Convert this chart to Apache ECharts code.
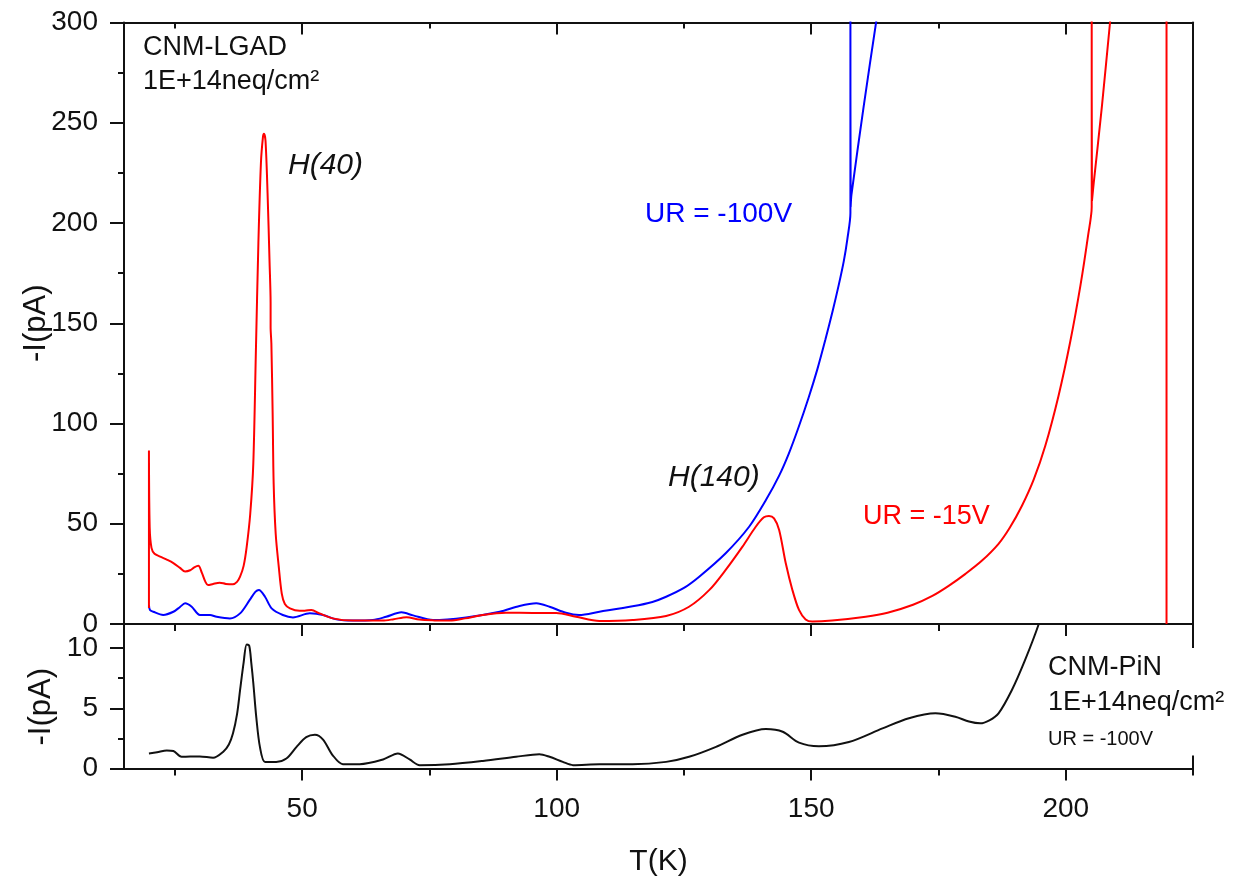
<!DOCTYPE html>
<html>
<head>
<meta charset="utf-8">
<script src="https://cdn.jsdelivr.net/npm/echarts@6/dist/echarts.min.js"></script>
<style>
  html, body { margin: 0; padding: 0; background: #fff; }
  #chart { width: 1234px; height: 880px; }
</style>
</head>
<body>
<div id="chart"></div>
<script>
// Thermally stimulated current, [T (K), -I (pA)]
const lgadUR15V = [
  [19.9, 8], [19.9, 86.5], [20.05, 48], [20.4, 38], [21, 35], [22.1, 33.6], [23.5, 32],
  [24.7, 30.4], [26, 28], [27, 26.2], [28, 26.8], [28.8, 28.2], [29.6, 29], [30.3, 25.5],
  [31, 21], [31.5, 19.4], [32.5, 20], [33.8, 20.6], [35, 20], [36.4, 19.8], [37.2, 21],
  [37.8, 23.6], [38.5, 29], [39.1, 38.5], [39.8, 55], [40.4, 80], [40.9, 135], [41.4, 190],
  [41.9, 230], [42.3, 243], [42.5, 244.5], [42.8, 241], [43.2, 215], [43.6, 180], [43.8, 160],
  [43.8, 148], [43.95, 140], [44.2, 105], [44.4, 70], [44.8, 45], [45.4, 28.6], [46, 15],
  [46.6, 10], [47.6, 7.8], [49.5, 6.6], [50.5, 6.6], [51.8, 7], [53.4, 5.3], [56, 2.8],
  [60, 1.7], [65.8, 1.7], [68, 2.4], [70.5, 3.4], [73, 2.2], [76, 1.8], [79, 1.7], [82, 2.8],
  [85.5, 4.5], [90, 5.6], [95.3, 5.5], [99.9, 5.5], [103.8, 3.6], [108.4, 1.5], [114.9, 2],
  [121.5, 4], [126, 8.6], [130, 17], [133.2, 27], [136.5, 38.6], [139.1, 48.5], [140.7, 53.2],
  [141.7, 53.9], [142.7, 52.7], [143.7, 46.9], [145, 30.3], [146.3, 17], [147.6, 7],
  [148.9, 2.3], [150.2, 1.2], [154.1, 1.7], [160.7, 3.6], [165, 5.6], [170, 9.6], [173.8, 14],
  [177, 19], [180.3, 25], [183.5, 31.5], [186.8, 40], [189, 48], [191.4, 59],
  [193.7, 72], [196, 89], [198.6, 114], [200.9, 141], [202.9, 169], [204.4, 194],
  [205.1, 208], [205.1, 320], [205.15, 211], [205.5, 220], [207.1, 258], [208.7, 300],
  [209.5, 320], [219.8, 320], [219.8, 0]
];

const lgadUR100V = [
  [19.9, 9.5], [20.1, 7], [20.75, 6.1], [22.7, 4.5], [24.7, 6.1], [26, 8.5], [27, 10.3],
  [28.3, 8.6], [29.9, 4.5], [31.9, 4.5], [33.2, 3.6], [35.8, 2.8], [37.8, 5.3], [39.7, 12],
  [40.8, 16], [41.5, 17], [42.7, 13.6], [44, 7.8], [46.2, 4.5], [48.2, 3.3], [51.5, 5.3],
  [54.1, 4.5], [56.7, 2.3], [60, 1.7], [63.9, 2], [66.5, 3.6], [69.5, 5.8], [71.8, 4.3],
  [75.7, 2], [82.2, 3.3], [88.8, 6.1], [92.7, 9], [96, 10.3], [98.6, 8.6], [101.8, 5.6],
  [104.4, 4.5], [108.4, 6.1], [114.9, 8.8], [118.8, 11], [121.5, 13.6], [125, 18],
  [128, 23.6], [133.2, 35.3], [137.8, 48.5], [141.1, 61.8], [143.7, 74], [145.6, 85],
  [147.5, 98], [149.5, 113], [151.2, 127], [152.8, 142], [154.2, 156], [155.4, 169],
  [156.4, 181], [157.1, 192], [157.7, 205], [157.7, 320], [157.75, 208], [157.9, 214],
  [160.3, 258], [162.8, 301], [164, 320]
];

const pinUR100V = [
  [19.9, 1.25], [21.5, 1.35], [23.4, 1.5], [24.7, 1.45], [26.3, 0.97], [28, 1.0], [29.9, 1.0],
  [32.5, 0.9], [34.5, 1.4], [35.6, 2.0], [36.4, 2.9], [37.2, 4.5], [37.8, 6.5], [38.5, 8.8],
  [39.1, 10.3], [39.6, 10.2], [40, 8.8], [40.4, 7.1], [41, 4.2], [41.7, 1.8], [42.7, 0.55],
  [44.9, 0.55], [46.9, 0.83], [48.9, 1.8], [50.8, 2.6], [52.5, 2.8], [54.1, 2.4], [56, 1.1],
  [58, 0.36], [61.3, 0.36], [65.9, 0.75], [68.8, 1.25], [71.1, 0.75], [73.1, 0.28], [79, 0.36],
  [85.5, 0.63], [92, 0.97], [96.6, 1.19], [98.6, 0.97], [101.2, 0.55], [103.2, 0.28],
  [108.4, 0.36], [114.9, 0.36], [121.5, 0.55], [126, 0.97], [131.3, 1.8], [136.5, 2.8],
  [141.1, 3.27], [144.4, 3.05], [147.6, 2.15], [151.5, 1.85], [157.4, 2.2], [164, 3.33],
  [169.2, 4.17], [174.4, 4.58], [178.3, 4.3], [181, 3.9], [183.2, 3.75], [185, 4.0],
  [186.8, 4.58], [189.4, 6.5], [192, 9], [194.7, 12], [196, 14]
];

// Axis ticks
const tMajorTicks = [50, 100, 150, 200];
const tMinorTicks = [25, 75, 125, 175];
const tEndTick = [225];
const pinMajorTicks = [0, 5, 10];
const pinMinorTicks = [2.5, 7.5];

const FONT = '"Liberation Sans", Arial, Helvetica, sans-serif';
const INK = '#111';
const T_MIN = 15, T_MAX = 225;

function tAxis(gridIndex, position, o) {
  return {
    type: 'value', gridIndex, position, min: T_MIN, max: T_MAX,
    axisLine: { show: !!o.line, onZero: false, lineStyle: { color: INK, width: 2 } },
    axisTick: { show: !!o.ticks, inside: !!o.inside, length: o.len || 0, customValues: o.ticks || [],
                lineStyle: { color: INK, width: 2 } },
    axisLabel: o.labels ? { show: true, customValues: o.labels, fontFamily: FONT, fontSize: 28,
                            color: INK, margin: 27 } : { show: false },
    splitLine: { show: false },
    name: o.name || '', nameLocation: 'middle', nameGap: o.nameGap || 0, nameMoveOverlap: false,
    nameTextStyle: { fontFamily: FONT, fontSize: 30, color: INK }
  };
}

function curve(name, data, xi, yi, color) {
  return {
    name, type: 'line', xAxisIndex: xi, yAxisIndex: yi, data,
    showSymbol: false, smooth: 0.3, clip: true, sampling: 'none',
    lineStyle: { color, width: 2 }, itemStyle: { color }
  };
}

const option = {
  backgroundColor: '#fff',
  animation: false,
  grid: [
    { left: 124, top: 22.5, width: 1069, height: 601.5 },
    { left: 124, top: 624, width: 1069, height: 144.5 }
  ],
  xAxis: [
    tAxis(0, 'bottom', { line: true, ticks: tMajorTicks, len: 12 }),
    tAxis(0, 'bottom', { ticks: tMinorTicks, len: 7 }),
    tAxis(0, 'bottom', { ticks: tEndTick, len: 24 }),
    tAxis(0, 'top', { line: true, ticks: tMajorTicks, len: 12, inside: true }),
    tAxis(0, 'top', { ticks: tMinorTicks, len: 6, inside: true }),
    tAxis(1, 'bottom', { line: true, ticks: tMajorTicks, len: 12, labels: tMajorTicks,
                         name: 'T(K)', nameGap: 78 }),
    tAxis(1, 'bottom', { ticks: tMinorTicks.concat(tEndTick), len: 7 }),
    tAxis(1, 'bottom', { ticks: tEndTick, len: 13, inside: true })
  ],
  yAxis: [
    {
      type: 'value', gridIndex: 0, position: 'left', min: 0, max: 300, interval: 50,
      axisLine: { show: true, onZero: false, lineStyle: { color: INK, width: 2 } },
      axisTick: { show: true, length: 14, lineStyle: { color: INK, width: 2 } },
      minorTick: { show: true, splitNumber: 2, length: 6, lineStyle: { color: INK, width: 2 } },
      axisLabel: { fontFamily: FONT, fontSize: 28, color: INK, margin: 26 },
      splitLine: { show: false },
      name: '-I(pA)', nameLocation: 'middle', nameGap: 72, nameRotate: 90, nameMoveOverlap: false,
      nameTextStyle: { fontFamily: FONT, fontSize: 31, color: INK }
    },
    {
      type: 'value', gridIndex: 0, position: 'right', min: 0, max: 300,
      axisLine: { show: true, onZero: false, lineStyle: { color: INK, width: 2 } },
      axisTick: { show: false }, axisLabel: { show: false }, splitLine: { show: false }
    },
    {
      type: 'value', gridIndex: 1, position: 'left', min: 0, max: 12,
      axisLine: { show: true, onZero: false, lineStyle: { color: INK, width: 2 } },
      axisTick: { show: true, length: 14, customValues: pinMajorTicks, lineStyle: { color: INK, width: 2 } },
      axisLabel: { customValues: pinMajorTicks, fontFamily: FONT, fontSize: 28, color: INK, margin: 26 },
      splitLine: { show: false },
      name: '-I(pA)', nameLocation: 'middle', nameGap: 67, nameRotate: 90, nameMoveOverlap: false,
      nameTextStyle: { fontFamily: FONT, fontSize: 31, color: INK, padding: [0, 21, 0, 0] }
    },
    {
      type: 'value', gridIndex: 1, position: 'left', min: 0, max: 12,
      axisLine: { show: false, onZero: false },
      axisTick: { show: true, length: 6, customValues: pinMinorTicks, lineStyle: { color: INK, width: 2 } },
      axisLabel: { show: false }, splitLine: { show: false }
    }
  ],
  series: [
    curve('UR = -100V', lgadUR100V, 0, 0, '#0000ff'),
    curve('UR = -15V', lgadUR15V, 0, 0, '#ff0000'),
    curve('CNM-PiN', pinUR100V, 5, 2, '#111')
  ],
  graphic: [
    { type: 'text', left: 143, top: 34, style: { text: 'CNM-LGAD', fill: INK, font: '27px ' + FONT } },
    { type: 'text', left: 143, top: 68, style: { text: '1E+14neq/cm²', fill: INK, font: '27px ' + FONT } },
    { type: 'text', left: 288, top: 151, style: { text: 'H(40)', fill: INK, font: 'italic 30px ' + FONT } },
    { type: 'text', left: 645, top: 200, style: { text: 'UR = -100V', fill: '#0000ff', font: '28px ' + FONT } },
    { type: 'text', left: 668, top: 463, style: { text: 'H(140)', fill: INK, font: 'italic 30px ' + FONT } },
    { type: 'text', left: 863, top: 503, style: { text: 'UR = -15V', fill: '#ff0000', font: '27px ' + FONT } },
    { type: 'text', left: 1048, top: 654, style: { text: 'CNM-PiN', fill: INK, font: '27px ' + FONT } },
    { type: 'text', left: 1048, top: 689, style: { text: '1E+14neq/cm²', fill: INK, font: '27px ' + FONT } },
    { type: 'text', left: 1048, top: 729, style: { text: 'UR = -100V', fill: INK, font: '20px ' + FONT } }
  ]
};

const chart = echarts.init(document.getElementById('chart'), null, { renderer: 'canvas' });
chart.setOption(option);
</script>
</body>
</html>
